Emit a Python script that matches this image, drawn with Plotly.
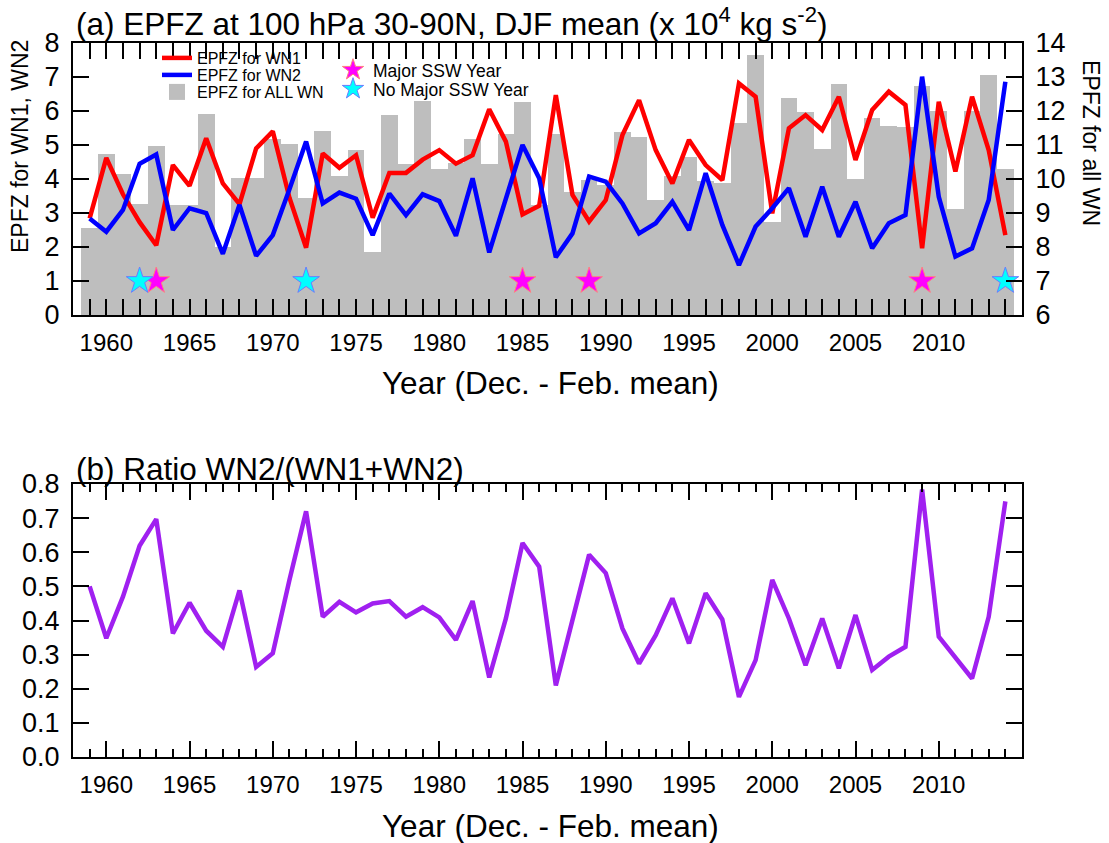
import plotly.graph_objects as go

years = list(range(1959, 2015))

wn1 = [2.84, 4.62, 3.55, 2.73, 2.05, 4.41, 3.80, 5.20, 3.87, 3.26, 4.90, 5.40, 3.45, 1.98,
       4.75, 4.33, 4.70, 2.86, 4.18, 4.18, 4.57, 4.85, 4.45, 4.70, 6.05, 5.10, 2.96, 3.21,
       6.47, 3.53, 2.75, 3.38, 5.29, 6.32, 4.85, 3.87, 5.15, 4.41, 3.97, 6.81, 6.42, 2.99,
       5.49, 5.88, 5.44, 6.42, 4.56, 6.03, 6.57, 6.18, 1.96, 6.27, 4.22, 6.42, 4.85, 2.35]

wn2 = [2.84, 2.45, 3.09, 4.45, 4.72, 2.50, 3.14, 3.00, 1.80, 3.24, 1.74, 2.35, 3.70, 5.10,
       3.28, 3.60, 3.42, 2.35, 3.57, 2.94, 3.55, 3.35, 2.33, 4.02, 1.84, 3.44, 5.00, 4.02,
       1.70, 2.40, 4.07, 3.92, 3.28, 2.40, 2.70, 3.33, 2.50, 4.17, 2.65, 1.47, 2.60, 3.14,
       3.73, 2.30, 3.77, 2.30, 3.33, 1.96, 2.70, 2.94, 7.01, 3.48, 1.72, 1.96, 3.38, 6.86]

wn_all = [8.55, 10.75, 10.15, 9.27, 10.97, 9.24, 9.24, 11.91, 8.00, 10.04, 10.04, 11.17, 11.03, 9.43,
          11.42, 10.09, 10.85, 7.84, 11.88, 10.43, 12.30, 10.28, 10.46, 11.18, 10.43, 11.31, 12.27, 9.24,
          11.32, 9.63, 9.97, 9.82, 11.39, 11.25, 9.38, 10.09, 10.66, 9.95, 9.87, 11.64, 13.65, 8.75,
          12.37, 11.98, 10.87, 12.78, 9.99, 11.80, 11.56, 11.52, 12.74, 12.01, 9.12, 12.01, 13.06, 10.28]

ratio = [0.500, 0.348, 0.470, 0.619, 0.697, 0.362, 0.452, 0.370, 0.323, 0.488, 0.264, 0.304, 0.519, 0.720,
         0.411, 0.455, 0.424, 0.450, 0.457, 0.411, 0.439, 0.409, 0.343, 0.457, 0.233, 0.406, 0.627, 0.558,
         0.210, 0.400, 0.593, 0.539, 0.377, 0.274, 0.357, 0.465, 0.333, 0.480, 0.403, 0.176, 0.284, 0.519,
         0.406, 0.269, 0.406, 0.260, 0.416, 0.255, 0.294, 0.323, 0.784, 0.353, 0.294, 0.230, 0.411, 0.749]

major_ssw_years = [1963, 1985, 1989, 2009]
no_major_ssw_years = [1962, 1972, 2014]
star_level = 1

year_ticks = [1960, 1965, 1970, 1975, 1980, 1985, 1990, 1995, 2000, 2005, 2010]

W, H = 1109, 843
L, R, T, B = 73, 1022, 43, 757


def px(x):
    return (x - L) / (R - L)


def py(y):
    return (B - y) / (B - T)


FONT = "Liberation Sans, Arial, sans-serif"
GRAY = "#bebebe"

fig = go.Figure()

fig.add_trace(go.Bar(x=years, y=wn_all, width=1.0, marker=dict(color=GRAY, line=dict(width=0)),
                     name="EPFZ for ALL WN", xaxis="x", yaxis="y", showlegend=False))
fig.add_trace(go.Scatter(x=years, y=wn1, mode="lines", line=dict(color="#ff0000", width=4.5),
                         name="EPFZ for WN1", xaxis="x", yaxis="y2", legend="legend"))
fig.add_trace(go.Scatter(x=years, y=wn2, mode="lines", line=dict(color="#0000ff", width=4.5),
                         name="EPFZ for WN2", xaxis="x", yaxis="y2", legend="legend2"))
# legend swatch for the grey bars (square marker, like the reference's box)
fig.add_trace(go.Scatter(x=[None], y=[None], mode="markers",
                         marker=dict(symbol="square", size=22, color=GRAY),
                         name="EPFZ for ALL WN", xaxis="x", yaxis="y2", legend="legend3"))
fig.add_trace(go.Scatter(x=major_ssw_years, y=[star_level] * len(major_ssw_years), mode="markers",
                         marker=dict(symbol="star", size=20, color="#ff00ff",
                                     line=dict(color="#ff8080", width=1)),
                         name="Major SSW Year", xaxis="x", yaxis="y2", legend="legend4"))
fig.add_trace(go.Scatter(x=no_major_ssw_years, y=[star_level] * len(no_major_ssw_years), mode="markers",
                         marker=dict(symbol="star", size=20, color="#00ffff",
                                     line=dict(color="#6a7cff", width=1)),
                         name="No Major SSW Year", xaxis="x", yaxis="y2", legend="legend5"))

fig.add_trace(go.Scatter(x=years, y=ratio, mode="lines", line=dict(color="#a020f0", width=4.5),
                         name="Ratio", xaxis="x2", yaxis="y3", showlegend=False))

top_dom = [py(315), 1.0]
bot_dom = [0.0, py(484)]

XT = 24
YT = 27

xcommon = dict(range=[1958, 2015], tickmode="array", tickvals=year_ticks, ticks="inside", ticklen=16,
               tickwidth=1.5, tickcolor="black", showline=True, linecolor="black", linewidth=2,
               mirror="allticks", showgrid=False, zeroline=False,
               tickfont=dict(family=FONT, size=XT, color="black"), ticklabelstandoff=5,
               minor=dict(dtick=1, tick0=1958, ticks="inside", ticklen=8, tickwidth=1.5,
                          tickcolor="black", showgrid=False))

ycommon = dict(ticks="inside", ticklen=16, tickwidth=1.5, tickcolor="black", showline=True,
               linecolor="black", linewidth=2, showgrid=False, zeroline=False, ticklabelstandoff=6,
               tickfont=dict(family=FONT, size=YT, color="black"))


def leg(x, y, size):
    return dict(x=px(x), y=py(y), xanchor="left", yanchor="middle", bgcolor="rgba(0,0,0,0)",
                font=dict(family=FONT, size=size, color="black"), itemwidth=30,
                tracegroupgap=0)


fig.update_layout(
    width=W, height=H,
    margin=dict(l=L, r=W - R, t=T, b=H - B),
    paper_bgcolor="white", plot_bgcolor="white",
    font=dict(family=FONT, color="black"),
    bargap=0,
    xaxis=dict(domain=[0, 1], anchor="y", **xcommon),
    yaxis=dict(domain=top_dom, anchor="x", side="right", range=[6, 14], dtick=1, **ycommon),
    yaxis2=dict(overlaying="y", anchor="x", side="left", range=[0, 8], dtick=1, **ycommon),
    xaxis2=dict(domain=[0, 1], anchor="y3", **xcommon),
    yaxis3=dict(domain=bot_dom, anchor="x2", range=[0, 0.8], dtick=0.1, tickformat=".1f",
                mirror="allticks", **ycommon),
    legend=leg(157, 58, 16),
    legend2=leg(157, 75, 16),
    legend3=leg(157, 92, 16),
    legend4=leg(333, 70, 17.5),
    legend5=leg(333, 89, 17.5),
)

TS = 31.5
annots = [
    dict(text="(a) EPFZ at 100 hPa 30-90N, DJF mean (x 10<sup>4</sup> kg s<sup>-2</sup>)",
         x=px(74), y=py(22), xanchor="left", yanchor="middle", font=dict(size=TS)),
    dict(text="(b) Ratio WN2/(WN1+WN2)", x=px(74), y=py(469), xanchor="left", yanchor="middle",
         font=dict(size=TS)),
    dict(text="Year (Dec. - Feb. mean)", x=px(550), y=py(383), xanchor="center", yanchor="middle",
         font=dict(size=TS)),
    dict(text="Year (Dec. - Feb. mean)", x=px(550), y=py(826), xanchor="center", yanchor="middle",
         font=dict(size=TS)),
    dict(text="EPFZ for WN1, WN2", x=px(20), y=py(147), xanchor="center", yanchor="middle",
         textangle=-90, font=dict(size=23)),
    dict(text="EPFZ for all WN", x=px(1091), y=py(143), xanchor="center", yanchor="middle",
         textangle=90, font=dict(size=23)),
]
for a in annots:
    a.update(xref="paper", yref="paper", showarrow=False)
    a["font"].update(family=FONT, color="black")
fig.update_layout(annotations=annots)

fig.write_html("out.html")
